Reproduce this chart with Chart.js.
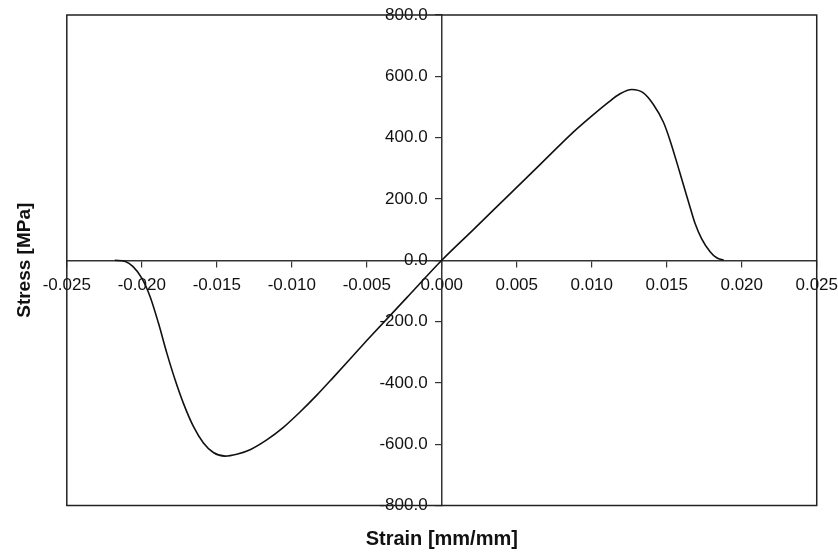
<!DOCTYPE html>
<html>
<head>
<meta charset="utf-8">
<script src="https://cdn.jsdelivr.net/npm/chart.js@4.4.1/dist/chart.umd.min.js"></script>
<style>
  html, body { margin: 0; padding: 0; background: #fff; }
  #wrap { width: 838px; height: 553px; position: relative; }
</style>
</head>
<body>
<div id="wrap"><canvas id="stressChart"></canvas></div>
<script>
// Strain [mm/mm]
const strain = [
  -0.0218, -0.0211, -0.0206, -0.0200, -0.01945, -0.01889, -0.01833, -0.01778,
  -0.01723, -0.01656, -0.01589, -0.01523, -0.01445, -0.01367, -0.01278, -0.01167,
  -0.01056, -0.00945, -0.00833, -0.00723, -0.0050, -0.00233, 0,
  0.00211, 0.00433, 0.00655, 0.00877, 0.00989, 0.0110, 0.01189, 0.01267,
  0.01344, 0.01411, 0.01478, 0.01522, 0.01589, 0.01655, 0.01689, 0.01733,
  0.01789, 0.01833, 0.0188
];
// Stress [MPa] at each strain value
const stress = [
  0, -4, -20, -58, -118, -205, -303, -390,
  -466, -542, -596, -627, -639, -633, -618, -586,
  -545, -495, -440, -382, -262, -122, 0,
  100, 206, 312, 418, 466, 511, 543, 557,
  546, 508, 450, 391, 283, 174, 120, 70,
  28, 8, 0
];
// axis ranges / tick steps
const strainTicks = [-0.025, 0.025, 0.005];
const stressTicks = [-800, 800, 200];

Chart.defaults.font.family = "'Liberation Sans', Arial, sans-serif";
Chart.defaults.color = '#111';

// outer frame round the plot area
const frame = {
  id: 'frame',
  afterDraw(chart) {
    const { ctx, chartArea: a } = chart;
    ctx.save();
    ctx.strokeStyle = '#222';
    ctx.lineWidth = 1.5;
    ctx.strokeRect(a.left, a.top, a.right - a.left, a.bottom - a.top);
    ctx.restore();
  }
};

const points = strain.map((s, i) => ({ x: s, y: stress[i] }));

new Chart(document.getElementById('stressChart').getContext('2d'), {
  type: 'scatter',
  data: {
    datasets: [
      {
        data: points,
        showLine: true,
        pointRadius: 0,
        borderColor: '#111',
        borderWidth: 1.6,
        cubicInterpolationMode: 'monotone'
      }
    ]
  },
  options: {
    responsive: true,
    maintainAspectRatio: false,
    animation: false,
    layout: { padding: { top: 15, right: 0, left: 0, bottom: 0 } },
    plugins: {
      legend: { display: false },
      tooltip: { enabled: false },
      title: {
        display: true,
        text: 'Strain [mm/mm]',
        position: 'bottom',
        fullSize: false,
        font: { size: 20, weight: 'bold' },
        color: '#111',
        padding: { top: 21.5, bottom: 2 }
      },
      subtitle: {
        display: true,
        text: 'Stress [MPa]',
        position: 'left',
        fullSize: false,
        font: { size: 19, weight: 'bold' },
        color: '#111',
        padding: { top: 13.5, bottom: 30.5 }
      }
    },
    scales: {
      x: {
        type: 'linear',
        min: strainTicks[0],
        max: strainTicks[1],
        position: { y: 0 },
        ticks: {
          stepSize: strainTicks[2],
          font: { size: 17, lineHeight: 2.2 },
          color: '#111',
          padding: 0,
          callback: v => (Math.abs(v) < 1e-9 ? 0 : v).toFixed(3)
        },
        grid: { drawOnChartArea: false, drawTicks: true, tickLength: 6, color: '#333', lineWidth: 1.2 },
        border: { color: '#333', width: 1.5 }
      },
      y: {
        type: 'linear',
        min: stressTicks[0],
        max: stressTicks[1],
        position: { x: 0 },
        ticks: {
          stepSize: stressTicks[2],
          font: { size: 17 },
          color: '#111',
          callback: v => v.toFixed(1) + '   '
        },
        grid: { drawOnChartArea: false, drawTicks: true, tickLength: 6, color: '#333', lineWidth: 1.2 },
        border: { color: '#333', width: 1.5 }
      }
    }
  },
  plugins: [frame]
});
</script>
</body>
</html>
